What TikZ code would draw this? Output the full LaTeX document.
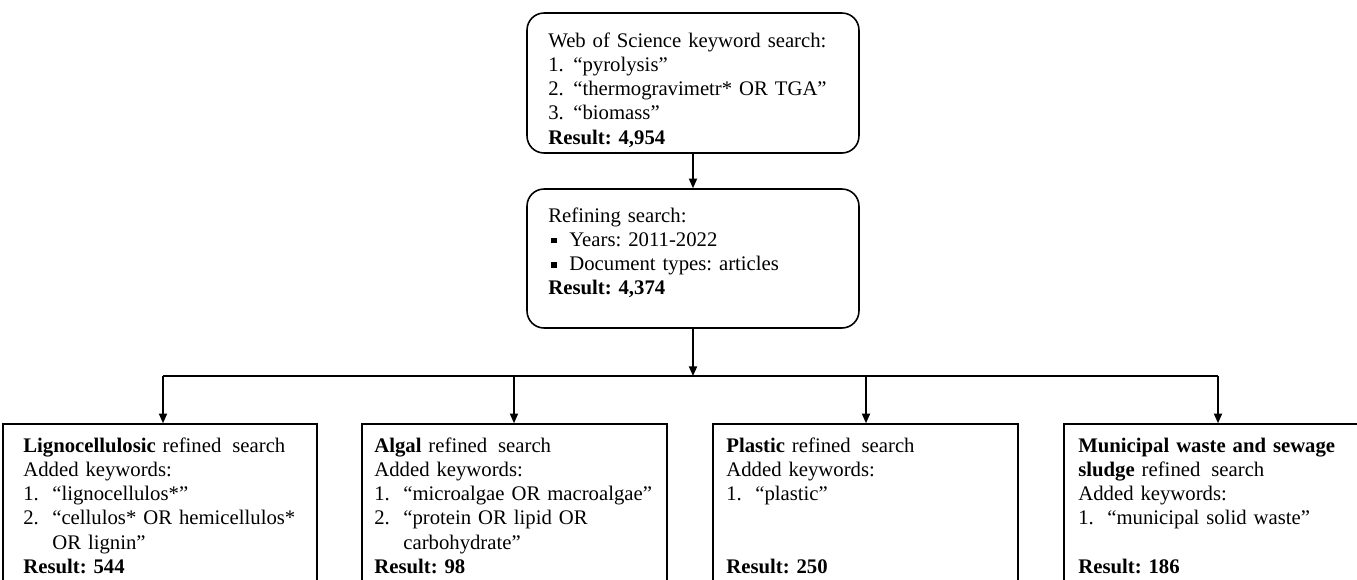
\documentclass[tikz,border=0pt]{standalone}
\usepackage{fontspec}
\setmainfont{Liberation Serif}
\usetikzlibrary{arrows.meta}
\frenchspacing
\newcommand{\kwline}[3][0.58cm]{\makebox[#1][l]{#2}#3}
\newcommand{\sqbullet}{\rule[1.6pt]{3.4pt}{3.4pt}}

\begin{document}
\begin{tikzpicture}[
    x=0.02cm, y=-0.02cm,
    rbox/.style={
      draw, line width=0.9pt, rounded corners=0.34cm,
      inner sep=0pt, minimum width=6.64cm, minimum height=2.8cm
    },
    sbox/.style={
      draw, line width=0.9pt,
      inner sep=0pt, minimum height=3.4cm
    },
    btext/.style={
      anchor=base west, inner sep=0pt, text width=6cm, align=left,
      font=\fontsize{11.8}{13.83}\selectfont
    },
    arr/.style={line width=0.9pt, -{Triangle[length=5.5pt, width=4.6pt]}}
  ]
  \useasboundingbox (0,0) rectangle (1357,579);
  \clip (0,0) rectangle (1357,579);

  \node[rbox] (web) at (693,83){};
  \node[rbox, minimum height=2.78cm] (refine) at (693,258.5){};
  \foreach \b/\x/\w in {ligno/160/6.28,algal/514.5/6.1,plastic/865.5/6.1,msw/1217/6.12} {
    \node[sbox, minimum width=\w cm] (\b) at (\x,509){};
  }

  \node[btext] (webtext) at (548,47){Web of Science keyword search:\\
    \kwline[0.5cm]{1.}{“pyrolysis”}\\
    \kwline[0.5cm]{2.}{“thermogravimetr* OR TGA”}\\
    \kwline[0.5cm]{3.}{“biomass”}\\
    \textbf{Result: 4,954}};
  \node[btext] (refinetext) at (548,222){Refining search:\\
    \makebox[0.42cm][l]{\hspace{1.5pt}\sqbullet}Years: 2011-2022\\
    \makebox[0.42cm][l]{\hspace{1.5pt}\sqbullet}Document types: articles\\
    \textbf{Result: 4,374}};
  \node[btext] (lignotext) at (23,452){\textbf{Lignocellulosic} refined\hspace{2.3pt} search\\
    Added keywords:\\
    \kwline{1.}{“lignocellulos*”}\\
    \kwline{2.}{“cellulos* OR hemicellulos*}\\
    \kwline{}{OR lignin”}\\
    \textbf{Result: 544}};
  \node[btext] (algaltext) at (374,452){\textbf{Algal} refined\hspace{2.3pt} search\\
    Added keywords:\\
    \kwline{1.}{“microalgae OR macroalgae”}\\
    \kwline{2.}{“protein OR lipid OR}\\
    \kwline{}{carbohydrate”}\\
    \textbf{Result: 98}};
  \node[btext] (plastictext) at (726,452){\textbf{Plastic} refined\hspace{2.3pt} search\\
    Added keywords:\\
    \kwline{1.}{“plastic”}\\
    ~\\
    ~\\
    \textbf{Result: 250}};
  \node[btext] (mswtext) at (1078,452){\textbf{Municipal waste and sewage}\\
    \textbf{sludge} refined\hspace{2.3pt} search\\
    Added keywords:\\
    \kwline{1.}{“municipal solid waste”}\\
    ~\\
    \textbf{Result: 186}};

  \draw[arr] (web.south) -- (refine.north);
  \foreach \b/\x in {ligno/163,algal/514,plastic/866,msw/1218} {
    \coordinate (t\b) at (\x,376);
    \draw[arr] (t\b) -- (t\b |- \b.north);
  }
  \draw[line width=0.9pt] (tligno) -- (tmsw);
  \draw[arr] (refine.south) -- (refine.south |- tligno);
\end{tikzpicture}
\end{document}
